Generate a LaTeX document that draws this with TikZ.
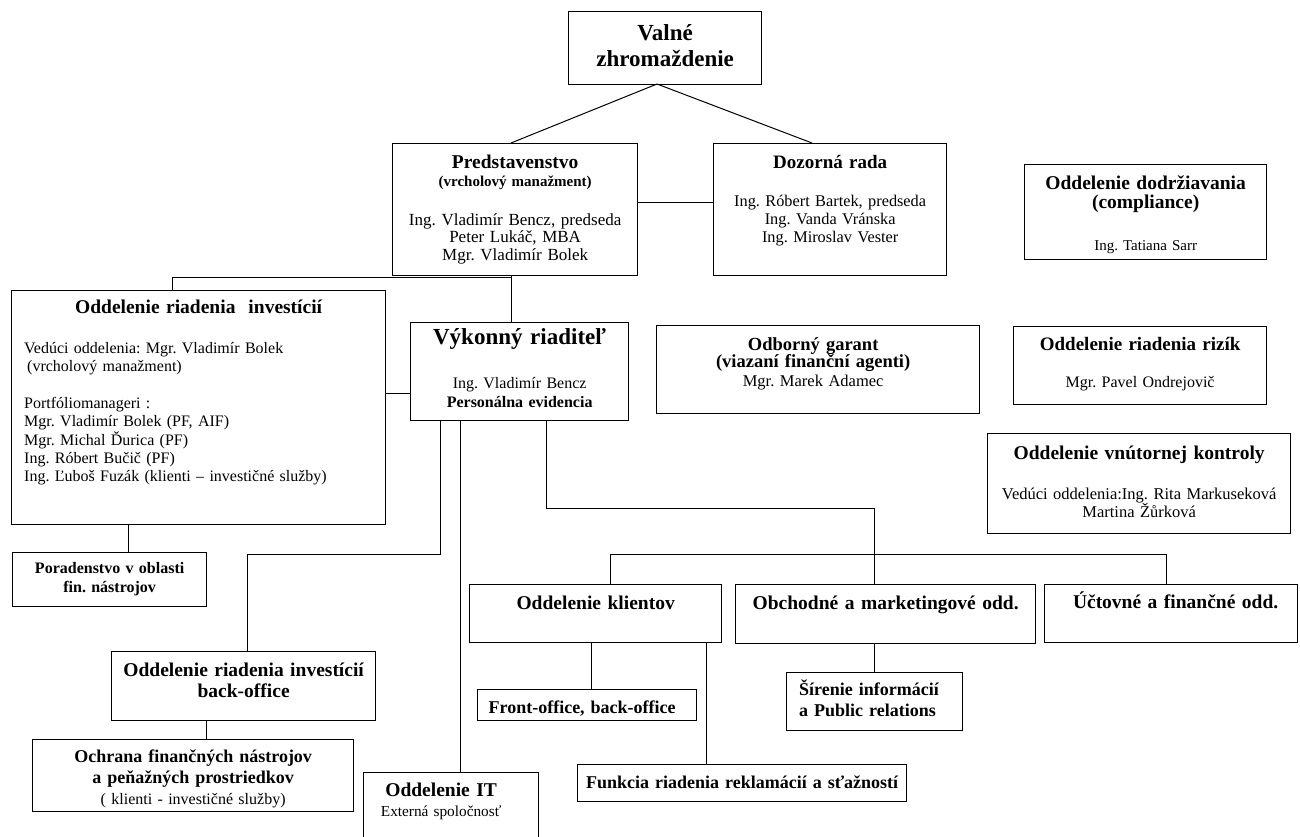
\documentclass[tikz,border=0pt]{standalone}
\usepackage{fontspec}
\setmainfont{Liberation Serif}
\usetikzlibrary{calc}
\newcommand{\sz}[2]{\fontsize{#1}{#2}\selectfont}
\frenchspacing
\tikzset{
  box/.style={draw=black, line width=1.3pt, inner sep=0pt, anchor=north west},
  wire/.style={draw=black, line width=1pt},
  txt/.style={inner sep=0pt, anchor=base, align=center, text width=#1},
  txtl/.style={inner sep=0pt, anchor=base west, align=left, text width=#1}
}

\begin{document}
\begin{tikzpicture}[x=1pt, y=-1pt]
  \clip (0,0) rectangle (1300,836);
  \fill[white] (0,0) rectangle (1300,836);

  % boxes (top left corner, size)
  \node[box, minimum width=193pt, minimum height=73pt]  (valne)    at (568,11)  {};
  \node[box, minimum width=245pt, minimum height=132pt] (pred)     at (392,143) {};
  \node[box, minimum width=233pt, minimum height=132pt] (dozor)    at (713,143) {};
  \node[box, minimum width=242pt, minimum height=95pt]  (compl)    at (1024,164) {};
  \node[box, minimum width=374pt, minimum height=234pt] (inv)      at (11,290)  {};
  \node[box, minimum width=218pt, minimum height=98pt]  (vyk)      at (410,322) {};
  \node[box, minimum width=323pt, minimum height=88pt]  (garant)   at (656,325) {};
  \node[box, minimum width=253pt, minimum height=78pt]  (rizika)   at (1013,326) {};
  \node[box, minimum width=303pt, minimum height=100pt] (kontrola) at (987,433) {};
  \node[box, minimum width=194pt, minimum height=54pt]  (porad)    at (12,552)  {};
  \node[box, minimum width=252pt, minimum height=58pt]  (klienti)  at (469,584) {};
  \node[box, minimum width=300pt, minimum height=59pt]  (obchod)   at (735,584) {};
  \node[box, minimum width=253pt, minimum height=58pt]  (uctov)    at (1044,584) {};
  \node[box, minimum width=264pt, minimum height=69pt]  (back)     at (111,651) {};
  \node[box, minimum width=176pt, minimum height=58pt]  (sirenie)  at (786,672) {};
  \node[box, minimum width=219pt, minimum height=31pt]  (front)    at (477,689) {};
  \node[box, minimum width=321pt, minimum height=72pt]  (ochrana)  at (32,739)  {};
  \node[box, minimum width=329pt, minimum height=37pt]  (funkcia)  at (577,764) {};
  \node[box, minimum width=175pt, minimum height=90pt]  (it)       at (363,772) {};

  % texts
  \node[txt=193pt, font=\bfseries\sz{23}{26}] (valneT) at ($(valne.north)+(0,29)$) {Valné\\zhromaždenie};

  \node[txt=245pt, font=\bfseries\sz{19.5}{21}] (predT) at ($(pred.north)+(0,25.5)$) {Predstavenstvo};
  \node[txt=245pt, font=\bfseries\sz{15}{17}] (predS) at ($(pred.north)+(0,43.5)$) {(vrcholový manažment)};
  \node[txt=245pt, font=\sz{17}{17.2}] (predN) at ($(pred.north)+(0,82.7)$) {Ing. Vladimír Bencz, predseda\\Peter Lukáč, MBA\\Mgr. Vladimír Bolek};

  \node[txt=233pt, font=\bfseries\sz{19}{21}] (dozorT) at ($(dozor.north)+(0,25)$) {Dozorná rada};
  \node[txt=233pt, font=\sz{16.3}{18.2}] (dozorN) at ($(dozor.north)+(0,63)$) {Ing. Róbert Bartek, predseda\\Ing. Vanda Vránska\\Ing. Miroslav Vester};

  \node[txt=242pt, font=\bfseries\sz{19.5}{19}] (complT) at ($(compl.north)+(0,25.3)$) {Oddelenie dodržiavania\\(compliance)};
  \node[txt=242pt, font=\sz{15}{17}] (complN) at ($(compl.north)+(0,86.5)$) {Ing. Tatiana Sarr};

  \node[txt=253pt, font=\bfseries\sz{19}{21}] (rizikaT) at ($(rizika.north)+(0,24.7)$) {Oddelenie riadenia rizík};
  \node[txt=253pt, font=\sz{16}{18}] (rizikaN) at ($(rizika.north)+(0,61)$) {Mgr. Pavel Ondrejovič};

  \node[txt=303pt, font=\bfseries\sz{19.5}{21}] (kontrolaT) at ($(kontrola.north)+(0,26)$) {Oddelenie vnútornej kontroly};
  \node[txt=303pt, font=\sz{16.5}{17.5}] (kontrolaN) at ($(kontrola.north)+(0,66)$) {Vedúci oddelenia:Ing. Rita Markuseková\\Martina Žůrková};

  \node[txt=323pt, font=\bfseries\sz{18.5}{17.5}] (garantT) at ($(garant.north)+(-5,25)$) {Odborný garant\\(viazaní finanční agenti)};
  \node[txt=323pt, font=\sz{16.5}{17}] (garantN) at ($(garant.north)+(-5,61.5)$) {Mgr. Marek Adamec};

  \node[txt=218pt, font=\bfseries\sz{23}{25}] (vykT) at ($(vyk.north)+(0,22)$) {Výkonný riaditeľ};
  \node[txt=218pt, font=\sz{16}{18}] (vykN) at ($(vyk.north)+(0,66)$) {Ing. Vladimír Bencz};
  \node[txt=218pt, font=\bfseries\sz{16}{18}] (vykP) at ($(vyk.north)+(0,85)$) {Personálna evidencia};

  \node[txt=374pt, font=\bfseries\sz{19.5}{21}] (invT) at ($(inv.north)+(0,23)$) {Oddelenie riadenia\ \ investícií};
  \node[txtl=350pt, font=\sz{16}{18.4}] (invN) at (24,353) {Vedúci oddelenia: Mgr. Vladimír Bolek\\
    \hspace*{3pt}(vrcholový manažment)\\[18.4pt]
    Portfóliomanageri :\\
    Mgr. Vladimír Bolek (PF, AIF)\\
    Mgr. Michal Ďurica (PF)\\
    Ing. Róbert Bučič (PF)\\
    Ing. Ľuboš Fuzák (klienti – investičné služby)};

  \node[txt=194pt, font=\bfseries\sz{16}{19}] (poradT) at ($(porad.north)+(0,21)$) {Poradenstvo v oblasti\\fin. nástrojov};
  \node[txt=264pt, font=\bfseries\sz{19.5}{21}] (backT) at ($(back.north)+(0,25.7)$) {Oddelenie riadenia investícií\\back-office};
  \node[txt=321pt, font=\bfseries\sz{18}{20.6}] (ochranaT) at ($(ochrana.north)+(0,23.7)$) {Ochrana finančných nástrojov\\a peňažných prostriedkov};
  \node[txt=321pt, font=\sz{16}{18}] (ochranaN) at ($(ochrana.north)+(0,65)$) {( klienti - investičné služby)};

  \node[txt=175pt, font=\bfseries\sz{19.5}{21}] (itT) at ($(it.north)+(-10,24)$) {Oddelenie IT};
  \node[txt=175pt, font=\sz{15.3}{17}] (itN) at ($(it.north)+(-10,44)$) {Externá spoločnosť};

  \node[txt=252pt, font=\bfseries\sz{19.5}{21}] (klientiT) at ($(klienti.north)+(0,25)$) {Oddelenie klientov};
  \node[txt=300pt, font=\bfseries\sz{19.5}{21}] (obchodT) at ($(obchod.north)+(0,25)$) {Obchodné a marketingové odd.};
  \node[txt=253pt, font=\bfseries\sz{19.5}{21}] (uctovT) at ($(uctov.north)+(4.5,24)$) {Účtovné a finančné odd.};
  \node[txt=219pt, font=\bfseries\sz{18}{20}] (frontT) at ($(front.north)+(-5,24)$) {Front-office, back-office};
  \node[txtl=170pt, font=\bfseries\sz{18}{21}] (sirenieT) at ($(sirenie.north west)+(13,23)$) {Šírenie informácií\\a Public relations};
  \node[txt=329pt, font=\bfseries\sz{18}{20}] (funkciaT) at ($(funkcia.north)+(0,24.3)$) {Funkcia riadenia reklamácií a sťažností};

  % connectors
  \coordinate (jTop) at (657,84);
  \coordinate (jDoz) at (812,143);
  \coordinate (jPred) at (511,277);
  \coordinate (jInv) at (172,277);
  \draw[wire] (jTop) -- (pred.north -| jPred);
  \draw[wire] (jTop) -- (jDoz);
  \draw[wire] ([yshift=7pt]pred.east) -- ([yshift=7pt]dozor.west);
  \draw[wire] (pred.south -| jPred) -- (vyk.north -| jPred);
  \draw[wire] (inv.north -| jInv) -- (jInv) -- (jPred);

  \coordinate (bVyk) at (398,393);
  \draw[wire] (inv.east |- bVyk) -- (vyk.west |- bVyk);
  \coordinate (bPor) at (128,538);
  \draw[wire] (inv.south -| bPor) -- (porad.north -| bPor);

  \coordinate (bBackA) at (440,554);
  \coordinate (bBackB) at (247,554);
  \draw[wire] (vyk.south -| bBackA) -- (bBackA) -- (bBackB) -- (back.north -| bBackB);
  \coordinate (bOch) at (206,730);
  \draw[wire] (back.south -| bOch) -- (ochrana.north -| bOch);
  \coordinate (bIT) at (460,600);
  \draw[wire] (vyk.south -| bIT) -- (it.north -| bIT);

  \coordinate (bRA) at (546,508);
  \coordinate (bRB) at (874,508);
  \coordinate (busL) at (610,554);
  \coordinate (busR) at (1166,554);
  \draw[wire] (vyk.south -| bRA) -- (bRA) -- (bRB) -- (obchod.north -| bRB);
  \draw[wire] (klienti.north -| busL) -- (busL) -- (busR) -- (uctov.north -| busR);
  \coordinate (bFr) at (591,660);
  \draw[wire] (klienti.south -| bFr) -- (front.north -| bFr);
  \coordinate (bFu) at (706,700);
  \draw[wire] (klienti.south -| bFu) -- (funkcia.north -| bFu);
  \draw[wire] (obchod.south -| bRB) -- (sirenie.north -| bRB);
\end{tikzpicture}
\end{document}
